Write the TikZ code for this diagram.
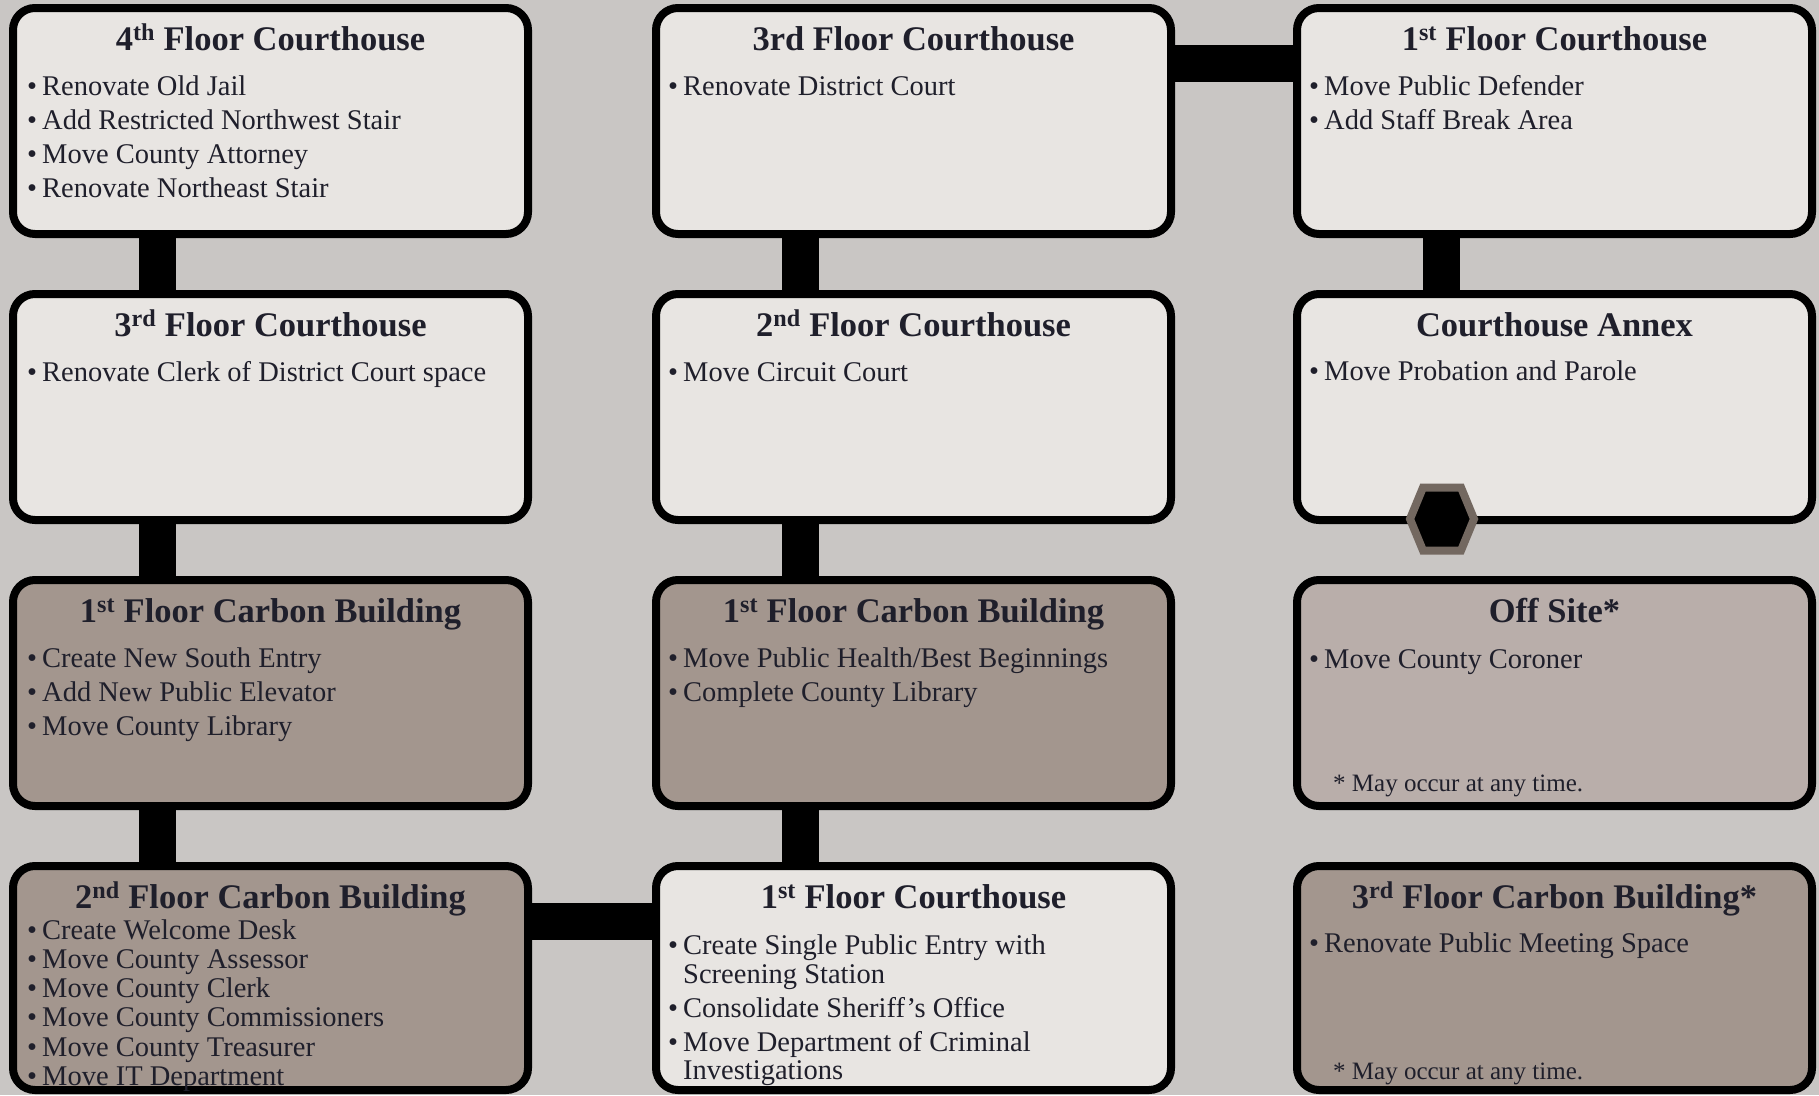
\documentclass[tikz,border=0pt]{standalone}
\usepackage{fontspec}
\setmainfont{Liberation Serif}
\usetikzlibrary{positioning,backgrounds}

\definecolor{paper}{HTML}{C9C6C4}
\definecolor{lightfill}{HTML}{E8E5E2}
\definecolor{brownfill}{HTML}{A3968E}
\definecolor{palefill}{HTML}{B9AEAA}
\definecolor{ink}{HTML}{1F1F2B}
\definecolor{hexrim}{HTML}{736860}

\tikzset{
  stage/.style={draw=black, line width=8pt, rounded corners=22pt,
    minimum width=515pt, minimum height=226pt, inner sep=0pt},
  lite/.style={stage, fill=lightfill},
  dark/.style={stage, fill=brownfill},
  pale/.style={stage, fill=palefill},
  heading/.style={anchor=base, inner sep=0pt, text=ink,
    font=\fontsize{34.5}{34.5}\selectfont\bfseries},
  item/.style={anchor=base west, inner sep=0pt, text=ink,
    font=\fontsize{28.5}{28.5}\selectfont},
  note/.style={anchor=base west, inner sep=0pt, text=ink,
    font=\fontsize{25}{25}\selectfont},
  link/.style={line width=37pt, black},
  hexend/.style={fill=black, draw=hexrim, line width=8pt, line join=miter},
}
\newcommand{\bul}{\llap{\textbullet\hspace{5pt}}}

\begin{document}
\begin{tikzpicture}[x=1pt, y=-1pt, node distance=52pt and 120pt]
  \useasboundingbox (0,0) rectangle (1819,1095);

  % boxes, column by column
  \node[lite] (ch4) at (270.5,121) {};
  \node[lite, below=of ch4] (ch3) {};
  \node[dark, below=of ch3] (cb1) {};
  \node[dark, below=of cb1, minimum height=224pt] (cb2) {};

  \node[lite, right=of ch4] (ch3b) {};
  \node[lite, below=of ch3b] (ch2) {};
  \node[dark, below=of ch2] (cb1b) {};
  \node[lite, below=of cb1b, minimum height=224pt] (ch1) {};

  \node[lite, right=118pt of ch3b] (ch1b) {};
  \node[lite, below=of ch1b] (annex) {};
  \node[pale, below=of annex] (offsite) {};
  \node[dark, below=of offsite, minimum height=224pt] (cb3) {};

  % links behind the boxes
  \begin{scope}[on background layer]
    \fill[paper] (0,0) rectangle (1819,1095);
    \draw[link] ([xshift=148pt]ch4.south west) -- ([xshift=148pt]ch3.north west);
    \draw[link] ([xshift=148pt]ch3.south west) -- ([xshift=148pt]cb1.north west);
    \draw[link] ([xshift=148pt]cb1.south west) -- ([xshift=148pt]cb2.north west);
    \draw[link] ([yshift=-59pt]cb2.north east) -- ([yshift=-59pt]ch1.north west);
    \draw[link] ([xshift=148pt]cb1b.south west) -- ([xshift=148pt]ch1.north west);
    \draw[link] ([xshift=148pt]ch2.south west) -- ([xshift=148pt]cb1b.north west);
    \draw[link] ([xshift=148pt]ch3b.south west) -- ([xshift=148pt]ch2.north west);
    \draw[link] ([yshift=-59.5pt]ch3b.north east) -- ([yshift=-59.5pt]ch1b.north west);
    \draw[link] ([xshift=148pt]ch1b.south west) -- ([xshift=148pt]annex.north west);
  \end{scope}

  % end marker
  \coordinate (stop) at ([xshift=149pt, yshift=5pt]annex.south west);
  \draw[hexend, shift={(stop)}] (-32,0) -- (-19,31.5) -- (19,31.5) -- (32,0)
    -- (19,-31.5) -- (-19,-31.5) -- cycle;

  % headings
  \node[heading] (ch4-t) at ([yshift=-46pt]ch4.north) {4\textsuperscript{th} Floor Courthouse};
  \node[heading] (ch3-t) at ([yshift=-46pt]ch3.north) {3\textsuperscript{rd} Floor Courthouse};
  \node[heading] (cb1-t) at ([yshift=-46pt]cb1.north) {1\textsuperscript{st} Floor Carbon Building};
  \node[heading] (cb2-t) at ([yshift=-46pt]cb2.north) {2\textsuperscript{nd} Floor Carbon Building};
  \node[heading] (ch3b-t) at ([yshift=-46pt]ch3b.north) {3rd Floor Courthouse};
  \node[heading] (ch2-t) at ([yshift=-46pt]ch2.north) {2\textsuperscript{nd} Floor Courthouse};
  \node[heading] (cb1b-t) at ([yshift=-46pt]cb1b.north) {1\textsuperscript{st} Floor Carbon Building};
  \node[heading] (ch1-t) at ([yshift=-46pt]ch1.north) {1\textsuperscript{st} Floor Courthouse};
  \node[heading] (ch1b-t) at ([yshift=-46pt]ch1b.north) {1\textsuperscript{st} Floor Courthouse};
  \node[heading] (annex-t) at ([yshift=-46pt]annex.north) {Courthouse Annex};
  \node[heading] (offsite-t) at ([yshift=-46pt]offsite.north) {Off Site*};
  \node[heading] (cb3-t) at ([yshift=-46pt]cb3.north) {3\textsuperscript{rd} Floor Carbon Building*};

  % bullet lists
  \foreach \txt [count=\i] in {Renovate Old Jail, Add Restricted Northwest Stair,
      Move County Attorney, Renovate Northeast Stair}
    \node[item] (ch4-\i) at ([shift={(33,57+34*\i)}]ch4.north west) {\bul\txt};
  \node[item] (ch3-1) at ([shift={(33,91)}]ch3.north west) {\bul Renovate Clerk of District Court space};
  \foreach \txt [count=\i] in {Create New South Entry, Add New Public Elevator, Move County Library}
    \node[item] (cb1-\i) at ([shift={(33,57+34*\i)}]cb1.north west) {\bul\txt};
  \foreach \txt [count=\i] in {Create Welcome Desk, Move County Assessor, Move County Clerk,
      Move County Commissioners, Move County Treasurer, Move IT Department}
    \node[item] (cb2-\i) at ([shift={(33,48+29.2*\i)}]cb2.north west) {\bul\txt};

  \node[item] (ch3b-1) at ([shift={(31,91)}]ch3b.north west) {\bul Renovate District Court};
  \node[item] (ch2-1) at ([shift={(31,91)}]ch2.north west) {\bul Move Circuit Court};
  \foreach \txt [count=\i] in {Move Public Health/Best Beginnings, Complete County Library}
    \node[item] (cb1b-\i) at ([shift={(31,57+34*\i)}]cb1b.north west) {\bul\txt};
  \node[item] (ch1-1) at ([shift={(31,92)}]ch1.north west) {\bul Create Single Public Entry with};
  \node[item] (ch1-1b) at ([shift={(31,121)}]ch1.north west) {Screening Station};
  \node[item] (ch1-2) at ([shift={(31,155)}]ch1.north west) {\bul Consolidate Sheriff’s Office};
  \node[item] (ch1-3) at ([shift={(31,189)}]ch1.north west) {\bul Move Department of Criminal};
  \node[item] (ch1-3b) at ([shift={(31,217)}]ch1.north west) {Investigations};

  \foreach \txt [count=\i] in {Move Public Defender, Add Staff Break Area}
    \node[item] (ch1b-\i) at ([shift={(31,57+34*\i)}]ch1b.north west) {\bul\txt};
  \node[item] (annex-1) at ([shift={(31,90)}]annex.north west) {\bul Move Probation and Parole};
  \node[item] (offsite-1) at ([shift={(31,92)}]offsite.north west) {\bul Move County Coroner};
  \node[note] (offsite-n) at ([shift={(40,215)}]offsite.north west) {* May occur at any time.};
  \node[item] (cb3-1) at ([shift={(31,90)}]cb3.north west) {\bul Renovate Public Meeting Space};
  \node[note] (cb3-n) at ([shift={(40,217)}]cb3.north west) {* May occur at any time.};
\end{tikzpicture}
\end{document}
